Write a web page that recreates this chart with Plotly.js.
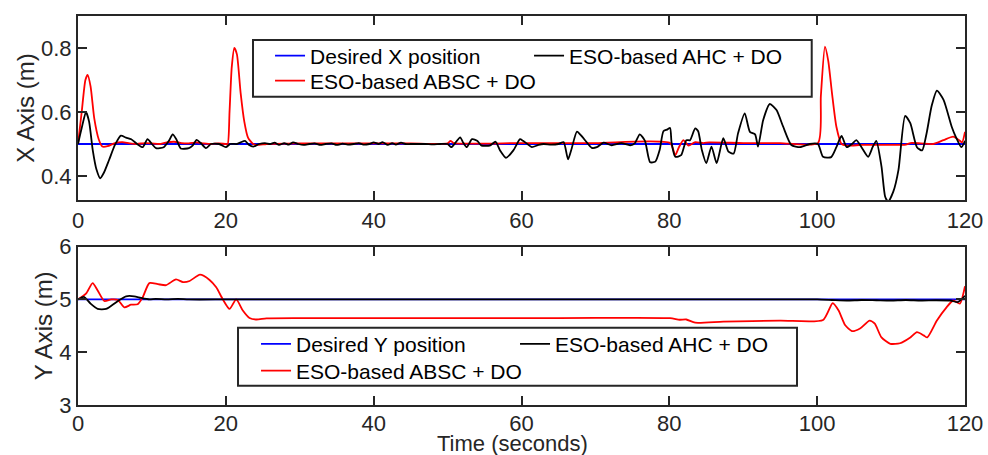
<!DOCTYPE html>
<html>
<head>
<meta charset="utf-8">
<script src="https://cdn.plot.ly/plotly-3.0.1.min.js"></script>
<style>html,body{margin:0;padding:0;background:#fff;}#chart{width:988px;height:455px;}</style>
</head>
<body>
<div id="chart"></div>
<script>
// ---------- X axis (top) ----------
const desiredX_t = [0, 120];
const desiredX_v = [0.5, 0.5];

const abscX_t = [0,0.5,1.0,1.3,1.7,2.2,2.8,3.3,4.0,5.0,6.0,7.0,8.0,9.0,10.0,11.0,12.0,13.0,14.0,15.0,16.0,17.0,18.0,19.0,20.0,20.25,20.5,20.8,21.15,21.5,22.0,22.5,23.0,23.7,24.5,25.5,30,35,40,45,50.0,50.4,50.8,60,70,80.1,80.8,81.3,81.9,82.6,83.5,84.6,85.4,90,95,100.1,100.5,101.05,101.5,102.0,102.6,103.3,104.0,106,108,110,112.0,112.6,114,115.7,117.1,118.4,119.2,119.6,120];
const abscX_v = [0.5,0.6,0.7,0.716,0.68,0.58,0.515,0.492,0.493,0.503,0.506,0.502,0.5,0.503,0.502,0.5,0.505,0.507,0.503,0.502,0.505,0.502,0.5,0.502,0.5,0.5,0.6,0.74,0.8,0.78,0.66,0.57,0.52,0.5,0.497,0.5,0.502,0.502,0.502,0.502,0.502,0.51,0.503,0.503,0.503,0.503,0.465,0.49,0.512,0.495,0.506,0.503,0.505,0.503,0.503,0.503,0.65,0.804,0.76,0.66,0.554,0.5,0.495,0.497,0.497,0.497,0.498,0.503,0.502,0.5,0.512,0.523,0.512,0.505,0.538];

const ahcX_t = [0,0.5,1.08,1.5,2.0,2.5,3.0,3.5,4.2,5.0,5.8,6.5,7.2,8.0,8.75,9.4,10.0,10.55,11.6,12.3,12.8,13.3,13.9,15.0,15.5,16.05,16.6,17.3,18.0,19.1,20.0,20.6,21.5,22.0,22.6,23.1,23.7,24.5,25.3,26.0,26.6,27.2,27.9,28.5,29.1,29.8,30.5,31.3,32.0,32.8,33.5,34.3,35.0,35.8,36.5,37.3,38.0,38.6,39.4,40.0,40.7,41.2,41.9,42.5,43.0,43.7,44.3,45.0,46.0,47.0,48.0,49.0,50.0,50.5,51.1,51.7,52.1,52.6,53.3,54.0,54.6,55.7,56.5,57.1,57.9,58.9,59.8,60.2,60.8,61.4,62.3,63.0,64.0,65.0,65.7,66.3,66.8,67.5,68.2,68.8,69.5,70.2,71.1,72.2,73.5,74.7,75.35,76.0,76.7,77.4,78.1,78.7,79.2,79.7,80.1,80.3,80.8,81.6,82.3,82.8,83.5,83.9,84.4,85.0,85.7,86.4,87.3,88.0,88.7,89.3,90.2,90.9,91.6,92.0,92.7,93.6,94.5,95.4,96.5,97.7,99.0,100.1,100.8,101.9,102.6,103.3,104.0,104.7,105.3,106.0,106.9,107.5,108.0,108.7,109.2,109.6,110.3,111.0,111.9,112.6,113.5,114.2,114.8,115.5,116.2,117.1,118.2,118.8,119.5,120];
const ahcX_v = [0.5,0.55,0.6,0.57,0.48,0.42,0.393,0.41,0.45,0.497,0.526,0.52,0.515,0.5,0.49,0.515,0.5,0.487,0.49,0.51,0.53,0.515,0.486,0.487,0.495,0.513,0.503,0.487,0.5,0.5,0.49,0.5,0.5,0.505,0.51,0.498,0.492,0.5,0.503,0.5,0.504,0.497,0.503,0.498,0.505,0.5,0.497,0.5,0.502,0.497,0.5,0.502,0.497,0.501,0.498,0.5,0.503,0.498,0.5,0.505,0.5,0.506,0.497,0.503,0.498,0.504,0.5,0.5,0.5,0.5,0.499,0.5,0.5,0.49,0.505,0.521,0.505,0.49,0.515,0.51,0.495,0.495,0.507,0.48,0.457,0.48,0.515,0.51,0.5,0.49,0.497,0.5,0.498,0.5,0.506,0.452,0.487,0.539,0.523,0.506,0.488,0.49,0.504,0.496,0.503,0.496,0.503,0.53,0.51,0.443,0.445,0.482,0.54,0.545,0.55,0.505,0.46,0.465,0.512,0.512,0.549,0.54,0.481,0.44,0.492,0.44,0.518,0.476,0.47,0.534,0.596,0.538,0.53,0.492,0.575,0.625,0.606,0.554,0.497,0.49,0.5,0.5,0.46,0.459,0.49,0.525,0.49,0.5,0.512,0.49,0.46,0.49,0.51,0.43,0.335,0.32,0.351,0.419,0.588,0.565,0.49,0.48,0.533,0.62,0.667,0.638,0.554,0.52,0.49,0.51];

// ---------- Y axis (bottom) ----------
const desiredY_t = [0, 120];
const desiredY_v = [5, 5];

const abscY_t = [0,1.08,1.98,2.66,3.56,4.5,5.4,6.27,7.17,8.07,8.75,9.65,10.8,11.9,13.26,14.2,15.1,16.5,17.8,18.7,19.6,20.5,21.4,22.3,23.2,24.1,25.5,30,40,50,60,70,80.1,81.4,82.3,83.5,87.3,95,100.8,102.1,102.9,103.8,104.7,105.8,107.1,107.8,108.7,109.9,111.2,112.6,113.5,114.4,114.9,116.2,117.5,118.4,119.3,120];
const abscY_v = [5.0,5.11,5.31,5.17,4.97,5.0,4.99,4.85,4.9,4.91,5.04,5.31,5.29,5.27,5.38,5.33,5.35,5.47,5.37,5.23,5.0,4.82,5.0,4.79,4.65,4.62,4.64,4.645,4.645,4.645,4.645,4.65,4.645,4.615,4.62,4.56,4.58,4.6,4.61,4.93,4.79,4.51,4.40,4.45,4.6,4.54,4.28,4.16,4.17,4.28,4.38,4.32,4.28,4.6,4.85,4.98,4.92,5.25];

const ahcY_t = [0,0.8,1.7,2.66,3.8,4.6,5.5,6.5,7.6,8.5,9.65,10.5,12,13.5,15,20,30,40,50,60,70,80,90,100,102,104,106,108,110,112,114,116,118,119,119.5,120];
const ahcY_v = [5.0,5.05,4.92,4.82,4.82,4.89,4.98,5.06,5.06,5.03,5.0,5.01,5.0,5.01,5.0,5.0,5.0,5.0,5.0,5.0,5.0,5.0,5.0,5.0,4.99,4.98,4.99,4.985,4.98,4.99,4.98,4.985,4.98,4.95,5.0,5.07];

const xTicks = [0, 20, 40, 60, 80, 100, 120];

const names = {
  desX: 'Desired X position', absc: 'ESO-based ABSC + DO', ahc: 'ESO-based AHC + DO', desY: 'Desired Y position'
};
const titles = {x: 'X Axis (m)', y: 'Y Axis (m)', t: 'Time (seconds)'};

const LW = 1.8;
const line = (c) => ({color: c, width: LW, shape: 'spline', smoothing: 0.6});

const traces = [
  {x: desiredX_t, y: desiredX_v, name: names.desX, mode: 'lines', line: {color: '#0000ff', width: LW}, xaxis: 'x', yaxis: 'y', legend: 'legend'},
  {x: abscX_t, y: abscX_v, name: names.absc, mode: 'lines', line: line('#ff0000'), xaxis: 'x', yaxis: 'y', legend: 'legend2'},
  {x: ahcX_t, y: ahcX_v, name: names.ahc, mode: 'lines', line: line('#000000'), xaxis: 'x', yaxis: 'y', legend: 'legend3'},
  {x: desiredY_t, y: desiredY_v, name: names.desY, mode: 'lines', line: {color: '#0000ff', width: LW}, xaxis: 'x2', yaxis: 'y2', legend: 'legend4'},
  {x: abscY_t, y: abscY_v, name: names.absc, mode: 'lines', line: line('#ff0000'), xaxis: 'x2', yaxis: 'y2', legend: 'legend5'},
  {x: ahcY_t, y: ahcY_v, name: names.ahc, mode: 'lines', line: line('#000000'), xaxis: 'x2', yaxis: 'y2', legend: 'legend6'}
];

const AX = '#262626';
const FONT = 'Liberation Sans, Arial, Helvetica, sans-serif';
const baseAxis = {
  showline: true, linecolor: AX, linewidth: 2, mirror: 'ticks',
  ticks: 'inside', ticklen: 9, tickwidth: 2, tickcolor: AX,
  showgrid: false, zeroline: false,
  tickfont: {family: FONT, size: 22, color: AX}
};
const legBase = (x, y) => ({x: x, y: y, xanchor: 'left', yanchor: 'middle', bgcolor: 'rgba(0,0,0,0)', borderwidth: 0,
  font: {family: FONT, size: 21, color: '#000'}, orientation: 'v', tracegroupgap: 0});

const layout = {
  width: 988, height: 455,
  margin: {l: 78, r: 23, t: 16, b: 50},
  paper_bgcolor: '#fff', plot_bgcolor: '#fff',
  font: {family: FONT, color: AX},
  xaxis: Object.assign({}, baseAxis, {domain: [0, 1], range: [0, 120], tickvals: xTicks, anchor: 'y'}),
  yaxis: Object.assign({}, baseAxis, {domain: [0.527, 1], range: [0.325, 0.9], tickvals: [0.4, 0.6, 0.8], tickformat: '.1f', anchor: 'x',
    title: {text: titles.x, font: {family: FONT, size: 24, color: AX}, standoff: 0}}),
  xaxis2: Object.assign({}, baseAxis, {domain: [0, 1], range: [0, 120], tickvals: xTicks, anchor: 'y2', ticklabelstandoff: -2}),
  yaxis2: Object.assign({}, baseAxis, {domain: [0, 0.407], range: [3, 6], tickvals: [3, 4, 5, 6], anchor: 'x2',
    title: {text: titles.y, font: {family: FONT, size: 24, color: AX}, standoff: 0}}),
  annotations: [
    {text: titles.t, xref: 'paper', yref: 'paper', x: 0.4893, y: 0, xanchor: 'center', yanchor: 'top',
      yshift: -25, showarrow: false, borderpad: 0, font: {family: FONT, size: 22, color: AX}}
  ],
  showlegend: true,
  legend: legBase(0.2165, 0.8972),
  legend2: legBase(0.2165, 0.8329),
  legend3: legBase(0.5085, 0.8972),
  legend4: legBase(0.2007, 0.156),
  legend5: legBase(0.2007, 0.0874),
  legend6: legBase(0.4927, 0.156),
  shapes: [
    {type: 'rect', xref: 'paper', yref: 'paper', x0: 0.1973, x1: 0.8272, y0: 0.7925, y1: 0.9383,
      line: {color: AX, width: 2}, fillcolor: '#fff', layer: 'above'},
    {type: 'rect', xref: 'paper', yref: 'paper', x0: 0.1804, x1: 0.8106, y0: 0.0496, y1: 0.1987,
      line: {color: AX, width: 2}, fillcolor: '#fff', layer: 'above'}
  ]
};

Plotly.newPlot('chart', traces, layout, {displayModeBar: false, staticPlot: true});
</script>
</body>
</html>
